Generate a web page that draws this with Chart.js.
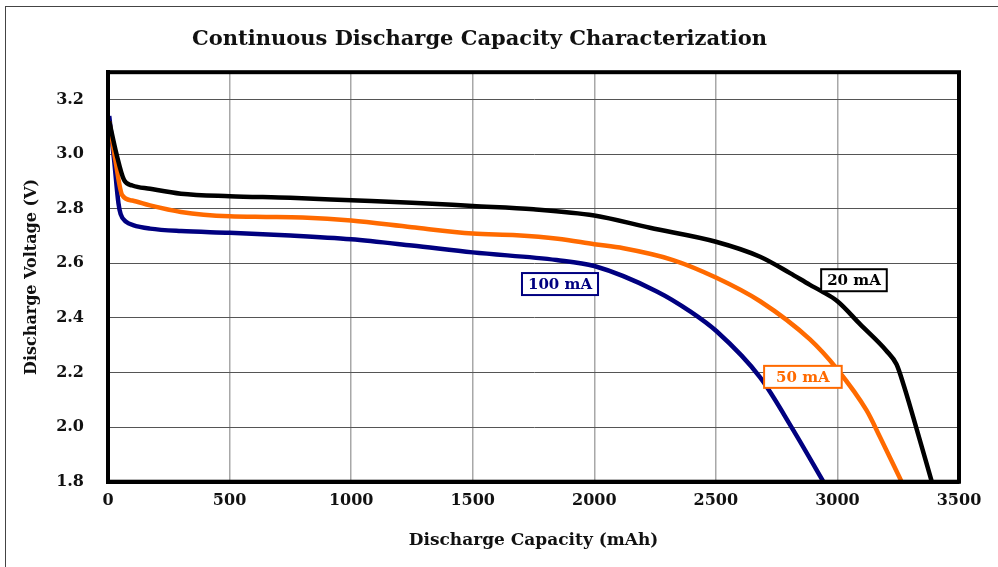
<!DOCTYPE html>
<html>
<head>
<meta charset="utf-8">
<script src="https://cdn.jsdelivr.net/npm/chart.js@4.4.1/dist/chart.umd.min.js"></script>
<style>
  html, body { margin: 0; padding: 0; background: #fff; }
  #wrap { position: relative; width: 998px; height: 567px; }
  #frame { position: absolute; left: 5px; top: 6px; right: -2px; bottom: -2px;
           border-left: 1.5px solid #444; border-top: 1.5px solid #444; pointer-events: none; }
</style>
</head>
<body>
<div id="wrap">
  <canvas id="c" width="998" height="567"></canvas>
  <div id="frame"></div>
</div>
<script>
// ---- Data ----
const seriesNames = ['20 mA', '50 mA', '100 mA'];
const seriesColors = ['#000000', '#ff6a00', '#000080'];

const cap20 = [5, 35, 66, 100, 173, 300, 500, 750, 1000, 1250, 1500, 1750, 2000, 2229, 2500, 2682, 2805, 2887, 2934, 3000, 3093, 3202, 3243, 3271, 3312, 3388];
const volt20 = [3.12, 3.0, 2.905, 2.885, 2.873, 2.855, 2.846, 2.84, 2.831, 2.822, 2.81, 2.798, 2.775, 2.73, 2.679, 2.624, 2.564, 2.521, 2.498, 2.461, 2.377, 2.279, 2.23, 2.158, 2.036, 1.8];

const cap50 = [5, 30, 58, 100, 173, 300, 500, 650, 800, 1000, 1250, 1500, 1681, 1850, 2000, 2120, 2324, 2500, 2682, 2887, 2999, 3120, 3175, 3264];
const volt50 = [3.12, 2.98, 2.85, 2.83, 2.812, 2.788, 2.772, 2.77, 2.768, 2.757, 2.732, 2.709, 2.703, 2.69, 2.67, 2.655, 2.612, 2.548, 2.461, 2.321, 2.212, 2.061, 1.964, 1.8];

const cap100 = [5, 25, 43, 52, 75, 103, 173, 300, 500, 750, 1000, 1250, 1500, 1845, 2000, 2257, 2394, 2503, 2682, 2819, 2942];
const volt100 = [3.14, 2.98, 2.82, 2.78, 2.752, 2.74, 2.727, 2.718, 2.712, 2.702, 2.688, 2.665, 2.64, 2.612, 2.59, 2.497, 2.424, 2.351, 2.182, 1.988, 1.8];

// Label boxes anchored in data units
const labelTexts = ['20 mA', '50 mA', '100 mA'];
const labelCap = [3068, 2858, 1859];
const labelVolt = [2.538, 2.184, 2.524];

const xTickStep = 500, xMin = 0, xMax = 3500;
const yTickStep = 0.2, yMin = 1.8, yMax = 3.3, yTopTick = 3.2;

const titleText = 'Continuous Discharge Capacity Characterization';
const xTitle = 'Discharge Capacity (mAh)';
const yTitle = 'Discharge Voltage (V)';

// ---- Build ----
const FONT = "'DejaVu Serif', serif";
const labelPad = [6, 12, 6];
function pts(xs, ys) { return xs.map((x, i) => ({ x: x, y: ys[i] })); }
const caps = [cap20, cap50, cap100];
const volts = [volt20, volt50, volt100];

const datasets = seriesNames.map((n, i) => ({
  label: n,
  data: pts(caps[i], volts[i]),
  borderColor: seriesColors[i],
  backgroundColor: seriesColors[i],
  borderWidth: 4.5,
  pointRadius: 0,
  cubicInterpolationMode: 'monotone',
  fill: false
}));

const framePlugin = {
  id: 'frameAndLabels',
  afterDatasetsDraw(chart) {
    const { ctx, chartArea: a, scales } = chart;
    ctx.save();
    ctx.strokeStyle = '#000';
    ctx.lineWidth = 4;
    ctx.strokeRect(a.left, a.top, a.right - a.left, a.bottom - a.top);
    ctx.font = "bold 15px " + FONT;
    ctx.textAlign = 'center';
    ctx.textBaseline = 'middle';
    labelTexts.forEach((t, i) => {
      const cx = scales.x.getPixelForValue(labelCap[i]);
      const cy = scales.y.getPixelForValue(labelVolt[i]);
      const w = ctx.measureText(t).width + 2 * labelPad[i];
      const h = 22;
      ctx.fillStyle = '#fff';
      ctx.fillRect(cx - w / 2, cy - h / 2, w, h);
      ctx.lineWidth = 2;
      ctx.strokeStyle = seriesColors[i];
      ctx.strokeRect(cx - w / 2, cy - h / 2, w, h);
      ctx.fillStyle = seriesColors[i];
      ctx.fillText(t, cx, cy + 1);
    });
    ctx.restore();
  }
};

new Chart(document.getElementById('c'), {
  type: 'line',
  data: { datasets: datasets },
  plugins: [framePlugin],
  options: {
    responsive: false,
    animation: false,
    layout: { padding: { left: 0, right: 39, top: 0, bottom: 0 } },
    plugins: {
      legend: { display: false },
      tooltip: { enabled: false },
      title: {
        display: true,
        text: titleText,
        color: '#111',
        font: { family: FONT, size: 21, weight: 'bold' },
        padding: { top: 27, bottom: 20 }
      }
    },
    scales: {
      x: {
        type: 'linear',
        min: xMin, max: xMax,
        ticks: {
          stepSize: xTickStep,
          color: '#111',
          padding: 10,
          font: { family: FONT, size: 16, weight: 'bold' },
          callback: v => String(v)
        },
        grid: { color: '#a8a8a8', lineWidth: 1.5, drawTicks: false },
        border: { display: true, color: '#000', width: 4 },
        title: {
          display: true, text: xTitle, color: '#111',
          font: { family: FONT, size: 17, weight: 'bold' },
          padding: { top: 0, bottom: 16 }
        },
        afterFit: s => { s.height = 85.3; }
      },
      y: {
        min: yMin, max: yMax,
        afterBuildTicks: s => { s.ticks = s.ticks.filter(t => t.value <= yTopTick + 1e-9); },
        ticks: {
          stepSize: yTickStep,
          color: '#111',
          padding: 24,
          font: { family: FONT, size: 16, weight: 'bold' },
          callback: v => Number(v).toFixed(1)
        },
        grid: { color: '#555', lineWidth: 1, drawTicks: false },
        border: { display: true, color: '#000', width: 4 },
        title: {
          display: true, text: yTitle, color: '#111',
          font: { family: FONT, size: 16, weight: 'bold' },
          padding: { top: 22, bottom: 0 }
        },
        afterFit: s => { s.width = 108; }
      }
    }
  }
});
</script>
</body>
</html>
